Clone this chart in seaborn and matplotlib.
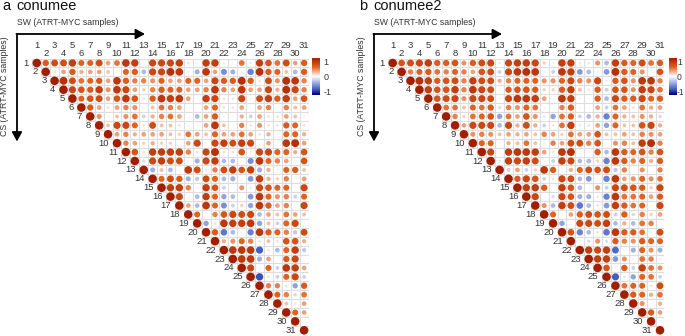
import matplotlib
matplotlib.use("Agg")
import matplotlib.pyplot as plt
from matplotlib.colors import LinearSegmentedColormap, Normalize
from matplotlib.cm import ScalarMappable
import pandas as pd
import seaborn as sns

sample_labels = [str(i) for i in range(1, 32)]

conumee_rows = [
 [1,.55,.65,.65,.75,.5,.5,.65,.3,.45,.8,.75,.02,.7,.7,.7,.75,.1,-.05,.75,.75,-.07,.03,.45,-.1,.75,.6,.45,.65,.3,.55],
 [1,.1,.3,.55,.25,.3,.3,.2,-.03,.5,.55,-.3,.7,.7,.85,.8,-.05,-.35,.8,.3,-.5,-.35,0,-.55,.85,.55,.5,.2,-.3,.55],
 [1,.85,.65,.45,.5,.55,.3,.8,.55,.4,.4,.35,.5,.3,.3,.5,.5,.3,.7,.55,.55,.85,.55,.1,.65,.35,.85,.8,.4],
 [1,.7,.6,.55,.75,.35,.8,.7,.3,.15,.4,.55,.5,.5,.3,.3,.4,.8,.4,.3,.8,.3,.3,.7,.25,.85,.7,.4],
 [1,.5,.6,.65,.3,.6,.8,.6,.1,.55,.8,.75,.8,.3,.03,.75,.7,.1,.1,.7,.02,.65,.75,.55,.75,.3,.6],
 [1,.55,.3,.1,.3,.4,.35,.05,.2,.45,.4,.3,.03,.03,.3,.5,.1,.1,.3,.02,.3,.4,0,.4,.2,.3],
 [1,.35,.05,.2,.35,.45,-.2,.25,.4,.45,.3,0,-.3,.3,.55,-.05,-.05,.25,-.2,.3,.1,.1,.3,.2,.05],
 [1,.2,.7,.7,.5,.1,.65,.2,.2,.1,-.05,.05,.3,.8,.2,.05,.4,.1,.35,.1,.1,.55,.5,.1],
 [1,.3,.4,.25,.3,.3,.3,.2,.15,.45,.3,.2,.5,.3,.3,.45,.3,.1,.25,.03,.5,.5,.25],
 [1,.4,.3,.15,.25,.15,.15,.02,.3,.7,.05,.7,.75,.65,.75,.7,.02,.3,.03,.8,.85,.3],
 [1,.6,.1,.75,.75,.75,.75,.4,.1,.7,.85,.1,.1,.6,.05,.7,.7,.5,.5,.25,.6],
 [1,-.15,.7,.75,.65,.65,-.05,-.35,.7,.75,-.3,-.3,.05,-.5,.8,.5,.4,.3,.05,.6],
 [1,-.35,.2,-.3,0,.8,.65,-.1,.4,.65,.75,.6,.75,-.35,.25,.05,.5,.55,.2],
 [1,.5,.65,.55,-.35,-.25,.65,.5,-.3,-.35,0,-.45,.75,.25,.15,.4,0,.3],
 [1,.75,.75,.4,-.05,.75,.6,-.2,0,.35,-.1,.7,.6,.5,.5,.03,.7],
 [1,.7,-.03,-.3,.75,.5,-.4,-.3,.03,-.45,.8,.5,.35,.4,-.2,.5],
 [1,.3,-.3,.8,.5,-.5,-.2,.15,-.4,.8,.55,.3,.4,.02,.7],
 [1,.5,.02,.4,.6,.7,.65,.7,-.3,.3,.2,.45,.3,.2],
 [1,-.4,.1,.8,.75,.75,.8,-.4,.2,-.2,.5,.7,-.05],
 [1,.55,-.6,-.3,0,-.55,.8,.55,.5,.4,-.25,.65],
 [1,.25,.35,.5,.4,.1,.2,.1,.6,.6,.25],
 [1,.8,.8,.8,-.7,.1,-.3,.5,.75,-.25],
 [1,.8,.8,-.35,.3,.02,.55,.7,0],
 [1,.7,-.05,.5,-.2,.8,.75,.3],
 [1,-.75,.1,-.2,.5,.7,-.2],
 [1,.4,.4,.1,-.4,.55],
 [1,.5,.4,.15,.45],
 [1,.2,-.1,.3],
 [1,.5,.3],
 [1,0],
 [1],
]

conumee2_rows = [
 [1,.6,.65,.7,.75,.55,.55,.6,.35,.55,.65,.7,.08,.7,.75,.75,.7,.15,-.05,.75,.75,-.1,-.1,.35,-.3,.75,.55,.5,.65,.45,.55],
 [1,.4,.5,.55,.45,.4,.5,.4,.3,.6,.65,-.2,.7,.8,.85,.8,.05,-.2,.8,.75,-.45,-.3,.05,-.45,.85,.55,.5,.35,.03,.6],
 [1,.85,.75,.55,.6,.65,.4,.75,.65,.65,.25,.4,.5,.5,.5,.35,.35,.5,.7,.4,.35,.7,.08,.55,.6,.35,.8,.8,.4],
 [1,.75,.6,.6,.75,.4,.8,.7,.65,.05,.55,.6,.6,.55,.15,.15,.55,.75,.2,.08,.55,-.2,.6,.6,.35,.75,.7,.45],
 [1,.6,.65,.7,.35,.7,.7,.65,.05,.7,.8,.8,.75,.3,0,.8,.75,-.05,.05,.55,-.3,.7,.55,.55,.7,.5,.55],
 [1,.45,.45,.2,.5,.45,.55,-.15,.4,.35,.5,.45,.05,0,.4,.55,.05,.03,.3,-.2,.45,.3,.1,.45,.25,.3],
 [1,.4,.15,.45,.5,.6,-.4,.45,.3,.6,.35,-.1,-.4,.45,.55,-.2,-.3,.25,-.55,.5,.25,.2,.35,.25,.15],
 [1,.3,.7,.7,.7,-.3,.7,.25,.65,.25,-.2,.1,.45,.75,-.1,-.1,.3,-.4,.5,.2,.2,.6,.7,.25],
 [1,.35,.4,.35,.2,.3,.25,.3,.2,.4,.3,.15,.45,.3,.3,.6,.2,.2,.3,.2,.4,.35,.3],
 [1,.5,.5,.03,.25,.2,.45,.2,.05,.4,.3,.65,.65,.4,.6,.02,.35,.4,.2,.75,.85,.4],
 [1,.7,-.05,.75,.8,.8,.75,.3,-.1,.8,.85,-.03,-.05,.55,-.3,.8,.55,.5,.6,.4,.6],
 [1,-.1,.75,.7,.75,.65,.05,-.2,.75,.7,-.3,-.3,.15,-.55,.8,.55,.4,.5,.25,.55],
 [1,-.2,.3,-.2,.15,.8,.55,0,.25,.5,.65,.6,.65,-.25,.4,.02,.35,0,.4],
 [1,.55,.7,.6,-.2,-.1,.7,.65,-.3,-.45,.03,-.55,.8,.3,.35,.5,.35,.45],
 [1,.75,.75,.55,0,.75,.6,-.3,0,.35,-.2,.7,.65,.6,.55,.15,.7],
 [1,.7,0,-.15,.7,.6,-.35,-.35,.08,-.55,.8,.45,.45,.5,.3,.55],
 [1,.35,-.3,.75,.65,-.6,-.3,.1,-.45,.75,.55,.45,.5,.05,.7],
 [1,.5,.05,.3,.55,.65,.6,.65,-.2,.55,.15,.4,.15,.3],
 [1,-.4,0,.7,.7,.65,.75,-.3,.25,-.3,.45,.4,0],
 [1,.6,-.55,-.3,.1,-.6,.8,.55,.55,.45,.05,.65],
 [1,0,-.15,.35,-.15,.55,.4,.35,.55,.5,.5],
 [1,.75,.7,.75,-.65,.03,-.35,.5,.35,-.35],
 [1,.75,.75,-.45,.35,-.05,.45,.4,-.05],
 [1,.6,.05,.55,-.2,.75,.45,.35],
 [1,-.7,.1,-.4,.5,.45,-.2],
 [1,.45,.5,.5,.1,.65],
 [1,.55,.5,.25,.45],
 [1,.35,.02,.25],
 [1,.55,.3],
 [1,.05],
 [1],
]

panel_titles = ["conumee", "conumee2"]
panel_letters = ["a", "b"]
x_caption = "SW (ATRT-MYC samples)"
y_caption = "CS (ATRT-MYC samples)"

W, H = 685, 336
plt.rcParams["font.family"] = ["Liberation Sans", "DejaVu Sans"]
cmap = LinearSegmentedColormap.from_list(
    "corr", [(0.0, "#00007F"), (0.15, "#4060C8"), (0.5, "#FFFFFF"),
             (0.75, "#E4611F"), (1.0, "#A31D00")])
fig = plt.figure(figsize=(W / 100, H / 100), dpi=100)
TXT = "#333333"
LABEL_SIZE = 6.8


def tidy(rows):
    recs = []
    for i, row in enumerate(rows):
        for k, v in enumerate(row):
            recs.append({"col": i + k + 1, "row": i + 1, "r": v, "size": abs(v)})
    return pd.DataFrame(recs)


overlay = fig.add_axes([0, 0, 1, 1], zorder=5)
overlay.set_xlim(0, W)
overlay.set_ylim(H, 0)
overlay.axis("off")
overlay.patch.set_alpha(0)


def panel(rows, title, letter, x0, letter_x, title_x, cap_x, arrow_x, cb_x, cb_w, tick_pad, tick_size):
    cell = 8.91
    y0 = 63.0
    left, right = x0 - cell / 2, x0 + 30.5 * cell
    top, bottom = y0 - cell / 2, y0 + 30.5 * cell
    ax = fig.add_axes([left / W, 1 - bottom / H, (right - left) / W, (bottom - top) / H])
    n = len(sample_labels)
    for k in range(n + 1):
        ax.hlines(k + 0.5, max(k, 1) - 0.5, n + 0.5, color="#dedede", lw=0.8, zorder=1)
        ax.vlines(k + 0.5, 0.5, min(k + 1, n) + 0.5, color="#dedede", lw=0.8, zorder=1)
    sns.scatterplot(data=tidy(rows), x="col", y="row", hue="r", size="size",
                    hue_norm=(-1, 1), palette=cmap, size_norm=(0, 1), sizes=(0, 38),
                    linewidth=0, legend=False, ax=ax, zorder=3, clip_on=False)
    ax.set_xlim(0.5, 31.5)
    ax.set_ylim(31.5, 0.5)
    ax.axis("off")

    for i, lab in enumerate(sample_labels):
        cx = x0 + i * cell
        overlay.text(cx, 45.5 if i % 2 == 0 else 53, lab, ha="center", va="center",
                     fontsize=LABEL_SIZE, color=TXT)
        overlay.text(cx - 8.0, y0 + i * cell, lab, ha="right", va="center",
                     fontsize=LABEL_SIZE, color=TXT)

    overlay.text(letter_x, 10, letter, fontsize=10.5, color="#111111", ha="left", va="baseline")
    overlay.text(title_x, 10, title, fontsize=10.5, color="#111111", ha="left", va="baseline")
    overlay.text(cap_x, 22.5, x_caption, fontsize=6.35, color=TXT, ha="left", va="center")
    overlay.text(arrow_x - 12, 86, y_caption, fontsize=6.35, color=TXT, rotation=90,
                 ha="center", va="center")
    style = dict(arrowstyle="-|>,head_length=0.55,head_width=0.3", color="black", lw=1.3,
                 shrinkA=0, shrinkB=0, mutation_scale=10)
    overlay.annotate("", xy=(arrow_x + 128, 34), xytext=(arrow_x - 0.6, 34), arrowprops=style)
    overlay.annotate("", xy=(arrow_x, 141.5), xytext=(arrow_x, 34), arrowprops=style)

    cax = fig.add_axes([cb_x / W, 1 - 94.5 / H, cb_w / W, 36.5 / H])
    cb = fig.colorbar(ScalarMappable(Normalize(-1, 1), cmap), cax=cax)
    cb.outline.set_visible(False)
    cb.set_ticks([0.82, 0, -0.82], labels=["1", "0", "-1"])
    cb.ax.tick_params(length=0, pad=tick_pad, labelsize=tick_size, labelcolor=TXT)


panel(conumee_rows, panel_titles[0], panel_letters[0], 36.8, 2, 16, 17, 17, 312, 8.5, 2.0, 6.5)
panel(conumee2_rows, panel_titles[1], panel_letters[1], 392.7, 359, 373, 374, 374, 668.5, 8.0, 0.4, 6.2)

fig.savefig("out.png", dpi=100)
